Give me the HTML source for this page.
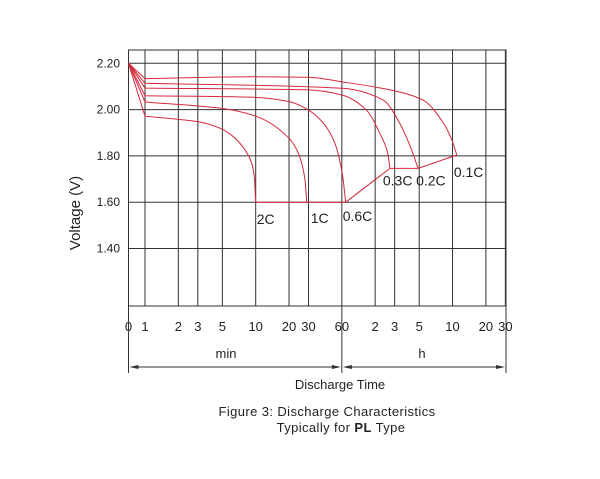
<!DOCTYPE html>
<html><head><meta charset="utf-8"><style>
html,body{margin:0;padding:0;background:#fff;}
svg{display:block;font-family:"Liberation Sans",sans-serif;}
</style></head><body>
<svg id="c" width="600" height="479" viewBox="0 0 600 479" xmlns="http://www.w3.org/2000/svg"></svg>
<script>
const yTicks=[2.20,2.00,1.80,1.60,1.40];
const xTickMinutes=[1,2,3,5,10,20,30,60,120,180,300,600,1200,1800];
const xTickLabels=["1","2","3","5","10","20","30","60","2","3","5","10","20","30"];
const seriesNames=["2C","1C","0.6C","0.3C","0.2C","0.1C"];
const seriesTimes=[
 [0,1,2,3,5,6.28,8,9.2,9.7,10],
 [0,1,5,10,20,24.3,27.9,28.9],
 [0,1,10,20.3,30,40.9,52,60.5,65],
 [0,1,30,60,100,132,156,163],
 [0,1,60,142,200,256,293],
 [0,1,10,30,60,163,325,497,591,656]
];
const seriesVolts=[
 [2.20,1.971,1.958,1.948,1.915,1.883,1.826,1.768,1.71,1.60],
 [2.20,2.033,2.005,1.972,1.876,1.811,1.696,1.60],
 [2.20,2.06,2.053,2.034,1.998,1.941,1.854,1.725,1.60],
 [2.20,2.093,2.085,2.063,1.998,1.898,1.811,1.746],
 [2.20,2.114,2.092,2.041,1.941,1.826,1.746],
 [2.20,2.134,2.142,2.14,2.12,2.085,2.041,1.941,1.869,1.804]
];
const labelOffsets=[[1,22],[4,21],[-3,19],[-7,17],[-2,17],[-3,22]];

const NS="http://www.w3.org/2000/svg";
const svg=document.getElementById('c');
const L=128.5,R=506,T=50,B=306;
function X(t){return t<=0?L:145+110.7*Math.log10(t);}
function Y(v){return 63.3+(2.2-v)*231.5;}
function el(tag,attrs,parent){const e=document.createElementNS(NS,tag);for(const k in attrs)e.setAttribute(k,attrs[k]);(parent||svg).appendChild(e);return e;}
function txt(s,x,y,attrs){const e=el('text',Object.assign({x:x,y:y},attrs||{}));e.textContent=s;return e;}

const g=el('g',{stroke:'#333','stroke-width':1,fill:'none'});


el('rect',{x:L,y:T,width:R-L,height:B-T},g);
yTicks.forEach(v=>{const l=el('line',{x1:L,x2:R,y1:Y(v),y2:Y(v)},g);
 
 
 const t=txt(v.toFixed(2),120,Y(v)+4,{'font-size':12,'text-anchor':'end',fill:'#222'});
 
 
});
xTickMinutes.forEach((m,i)=>{const x=X(m);
 const l=el('line',{x1:x,x2:x,y1:T,y2:B},g);
 
 
 const t=txt(xTickLabels[i],x,331,{'font-size':13,'text-anchor':'middle',fill:'#222'});
 
 
});
const t0=txt("0",L,331,{'font-size':13,'text-anchor':'middle',fill:'#222'});


[L,X(60),R].forEach(x=>{const l=el('line',{x1:x,x2:x,y1:B,y2:373,stroke:'#333','stroke-width':1});
 
 });
function arrow(x1,x2){const l=el('line',{x1:x1+8,x2:x2-8,y1:367,y2:367,stroke:'#333','stroke-width':1});
 
 
 el('polygon',{points:`${x1},367 ${x1+9},365 ${x1+9},369`,fill:'#333'});
 el('polygon',{points:`${x2},367 ${x2-9},365 ${x2-9},369`,fill:'#333'});}
arrow(L+1,X(60)-1);arrow(X(60)+1,R-1);
let tt=txt("min",226,358,{'font-size':13,'text-anchor':'middle',fill:'#222'});

tt=txt("h",422,358,{'font-size':13,'text-anchor':'middle',fill:'#222'});

tt=txt("Discharge Time",340,389,{'font-size':13,'text-anchor':'middle',fill:'#222'});

tt=txt("Voltage (V)",0,0,{'font-size':15,'text-anchor':'middle',fill:'#222',transform:'translate(80,213) rotate(-90)'});

tt=txt("Figure 3: Discharge Characteristics",327,416,{'font-size':13,'text-anchor':'middle',fill:'#222','letter-spacing':'0.4'});

tt=el('text',{x:341,y:432,'font-size':13,'text-anchor':'middle',fill:'#222','letter-spacing':'0.4'});
tt.innerHTML='Typically for <tspan font-weight="bold">PL</tspan> Type';


// monotone cubic (Fritsch-Carlson) on points from index 1; straight line from start
function monotone(pts){
 const p=pts.slice(1),n=p.length;
 let d=`M${pts[0][0]},${pts[0][1]} L${p[0][0]},${p[0][1]}`;
 if(n<2)return d;
 const dx=[],s=[];
 for(let i=0;i<n-1;i++){dx.push(p[i+1][0]-p[i][0]);s.push((p[i+1][1]-p[i][1])/dx[i]);}
 const m=[s[0]];
 for(let i=1;i<n-1;i++){m.push(s[i-1]*s[i]<=0?0:(3*(dx[i-1]+dx[i]))/((2*dx[i]+dx[i-1])/s[i-1]+(dx[i]+2*dx[i-1])/s[i]));}
 m.push(s[n-2]);
 for(let i=0;i<n-1;i++){const h=dx[i]/3;
  d+=` C${p[i][0]+h},${p[i][1]+m[i]*h} ${p[i+1][0]-h},${p[i+1][1]-m[i+1]*h} ${p[i+1][0]},${p[i+1][1]}`;}
 return d;}
const ends=[];
seriesNames.forEach((n,i)=>{
 const pts=seriesTimes[i].map((t,j)=>[X(t),Y(seriesVolts[i][j])]);
 const p=el('path',{d:monotone(pts),fill:'none',stroke:'#d42a3a','stroke-width':1});
 
 
 const e=pts[pts.length-1];ends.push(e);
 const lb=txt(n,e[0]+labelOffsets[i][0],e[1]+labelOffsets[i][1],{'font-size':14,fill:'#222'});
 
 
});
const ev=el('polyline',{points:ends.map(p=>p.join(',')).join(' '),fill:'none',stroke:'#d42a3a','stroke-width':1});


</script>
</body></html>
